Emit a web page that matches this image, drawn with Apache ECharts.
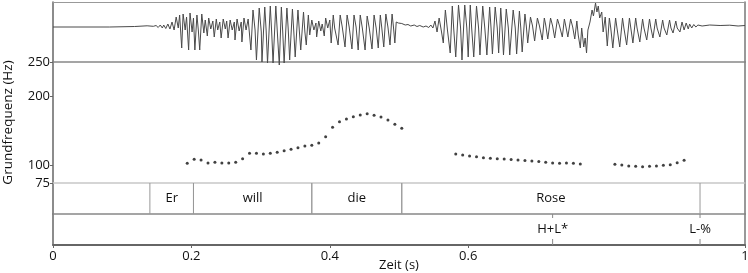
<!DOCTYPE html>
<html lang="de">
<head>
<meta charset="UTF-8">
<title>Grundfrequenz</title>
<script src="https://cdn.jsdelivr.net/npm/echarts@6/dist/echarts.min.js"></script>
<style>
    html, body { margin: 0; padding: 0; background: #fff; }
    #chart { width: 748px; height: 273px; }
</style>
</head>
<body>
<div id="chart"></div>
<script>
// ---- Daten ----
var timeTicks = [0, 0.2, 0.4, 0.6, 1];
var hzTicks = [75, 100, 200, 250];

// Oszillogramm [Zeit s, Amplitude]
var waveLead = [[0,0],[0.039,0],[0.082,0],[0.118,0.005],[0.136,0.012],[0.145,0.007],
    [0.149,0.015],[0.152,-0.005],[0.155,0.02],[0.158,-0.01],[0.160,0.02],[0.163,-0.015],[0.166,0.03],[0.169,-0.02],[0.172,0.05],
    [0.175,-0.03],[0.178,0.10],[0.181,-0.01],[0.183,0.12],[0.186,-0.21],[0.188,0.13],[0.191,-0.03],[0.193,0.10],[0.196,-0.23],
    [0.198,0.14],[0.201,-0.05],[0.203,0.09],[0.205,-0.23],[0.208,0.12],[0.210,-0.03],[0.212,-0.23],[0.215,0.13],[0.218,-0.06],[0.220,0.07]];
var waveWill = [[0.223,-0.09],[0.225,0.09],[0.228,-0.02],[0.231,0.06],[0.233,-0.10],[0.236,0.08],[0.238,-0.03],[0.241,0.05],
    [0.243,-0.11],[0.246,0.08],[0.249,-0.02],[0.251,0.06],[0.253,-0.11],[0.256,0.07],[0.259,-0.03],[0.262,0.05],[0.263,-0.13],
    [0.266,0.08],[0.269,-0.04],[0.272,0.05],[0.273,-0.15],[0.276,0.09],[0.279,-0.03],[0.282,0.08],
    [0.286,-0.23],[0.289,0.17],[0.292,-0.03],[0.294,-0.33],[0.298,0.19],[0.301,-0.05],[0.302,-0.35],[0.306,0.20],[0.308,-0.03],
    [0.310,-0.36],[0.314,0.21],[0.316,-0.05],[0.318,-0.36],[0.322,0.21],[0.324,-0.03],[0.327,-0.38],[0.330,0.20],[0.332,-0.05],
    [0.334,-0.36],[0.338,0.19],[0.340,-0.03],[0.342,-0.33],[0.346,0.18],[0.348,-0.05],[0.350,-0.30],[0.354,0.17],[0.356,-0.04],
    [0.358,-0.23],[0.362,0.15],[0.364,-0.05],[0.366,-0.18],[0.369,0.12],
    [0.371,-0.08],[0.374,0.07],[0.377,-0.03],[0.380,0.04],[0.381,-0.10],[0.384,0.06],[0.387,-0.04],[0.389,0.03],[0.392,-0.09],
    [0.394,0.09],[0.397,-0.01],[0.400,0.07]];
var waveDie = [[0.402,-0.16],[0.405,0.12],[0.407,-0.01],[0.412,-0.18],[0.415,0.12],[0.418,0],[0.422,-0.20],[0.425,0.12],
    [0.428,0],[0.432,-0.22],[0.435,0.12],[0.438,0],[0.441,-0.23],[0.444,0.12],[0.447,-0.01],[0.451,-0.23],[0.454,0.11],
    [0.457,-0.01],[0.461,-0.22],[0.464,0.12],[0.467,-0.01],[0.470,-0.21],[0.473,0.12],[0.475,0],[0.478,-0.20],[0.481,0.13],
    [0.484,0],[0.487,-0.18],[0.490,0.13],[0.492,0],[0.494,-0.16],[0.496,0.05]];
var wavePause = [[0.499,0.04],[0.501,0.02],[0.504,0.035],[0.509,0.02],[0.513,0.025],[0.517,0.01],[0.522,0.02],[0.526,0.005],
    [0.530,0.015],[0.535,0],[0.539,0.01],[0.543,-0.005],[0.546,0.02]];
var waveRose = [[0.549,-0.01],[0.552,0.06],[0.555,-0.05],[0.558,0.09],[0.561,-0.03],[0.564,-0.16],[0.567,0.17],[0.570,-0.03],
    [0.574,-0.26],[0.577,0.21],[0.579,-0.01],[0.582,-0.30],[0.586,0.22],[0.589,-0.01],[0.591,-0.33],[0.595,0.22],[0.598,-0.01],
    [0.600,-0.30],[0.603,0.22],[0.605,-0.01],[0.608,-0.30],[0.612,0.21],[0.615,-0.01],[0.617,-0.28],[0.621,0.21],[0.624,-0.01],
    [0.627,-0.28],[0.631,0.20],[0.633,-0.01],[0.635,-0.27],[0.639,0.20],[0.642,-0.01],[0.644,-0.26],[0.647,0.19],[0.649,-0.01],
    [0.651,-0.28],[0.655,0.18],[0.658,-0.01],[0.660,-0.28],[0.665,0.17],[0.668,-0.01],[0.670,-0.27],[0.674,0.16],[0.676,-0.01],
    [0.678,-0.25],[0.682,0.13],[0.684,0.01],[0.686,-0.16],[0.690,0.10],[0.693,0.01],[0.696,-0.14],[0.700,0.09],[0.703,0.01],
    [0.707,-0.13],[0.710,0.09],[0.712,0.02],[0.715,-0.12],[0.719,0.09],[0.722,0.01],[0.725,-0.11],[0.729,0.08],[0.732,0.01],
    [0.736,-0.10],[0.739,0.08],[0.741,0.01],[0.744,-0.10],[0.748,0.08],[0.751,0],[0.754,-0.12],[0.757,0.06],[0.759,-0.08],
    [0.762,-0.21],[0.764,-0.01],[0.767,-0.20],[0.769,-0.11],[0.771,-0.26],[0.773,-0.03],
    [0.776,0.05],[0.779,0.17],[0.781,0.11],[0.784,0.24],[0.786,0.15],[0.788,0.21],[0.790,0.09],[0.793,0.15],[0.795,-0.05],[0.798,0.10],
    [0.801,-0.19],[0.804,0.09],[0.806,-0.01],[0.809,-0.21],[0.813,0.09],[0.815,-0.01],[0.819,-0.20],[0.823,0.09],[0.825,-0.01],
    [0.829,-0.18],[0.833,0.09],[0.835,-0.01],[0.838,-0.16],[0.842,0.09],[0.844,-0.01],[0.848,-0.15],[0.852,0.08],[0.854,-0.01],
    [0.858,-0.13],[0.862,0.08],[0.864,-0.01],[0.867,-0.11],[0.871,0.08],[0.873,-0.01],[0.877,-0.10],[0.881,0.07],[0.883,-0.01],
    [0.887,-0.08],[0.891,0.07],[0.893,-0.01],[0.896,-0.06],[0.900,0.06],[0.902,-0.01],[0.906,-0.05]];
var waveTail = [[0.909,0.05],[0.912,-0.03],[0.915,0.04],[0.918,-0.02],[0.920,0.03],[0.923,-0.01],[0.926,0.025],[0.929,0],
    [0.932,0.02],[0.938,0.01],[0.949,0.02],[0.964,0.015],[0.978,0.018],[0.990,0.01],[1.0,0.015]];

// F0-Kontur [Zeit s, Hz]
var f0Seg1 = [[0.194,103.5],[0.204,109.3],[0.214,108.3],[0.224,103.9],[0.234,104.9],[0.244,103.9],[0.254,103.9],[0.264,104.9],
    [0.274,110.1],[0.284,117.9],[0.294,117.9],[0.304,116.9],[0.314,117.9],[0.324,119.4],[0.334,121.7],[0.344,123.7],[0.354,126.0],
    [0.364,128.5],[0.374,129.5],[0.384,132.8],[0.394,142.0],[0.404,155.6],[0.414,163.7],[0.424,167.6],[0.434,170.9],[0.444,173.3],
    [0.454,175.2],[0.464,172.9],[0.474,170.5],[0.484,166.1],[0.494,159.9],[0.504,154.1]];
var f0Seg2 = [[0.582,116.9],[0.592,115.5],[0.602,114.1],[0.612,113.0],[0.622,111.6],[0.632,110.7],[0.642,110.1],[0.652,109.7],
    [0.662,108.9],[0.672,108.3],[0.682,107.5],[0.692,106.8],[0.702,106.1],[0.712,104.9],[0.722,103.9],[0.732,103.5],[0.742,103.9],
    [0.752,103.5],[0.762,102.5]];
var f0Seg3 = [[0.812,102.0],[0.822,101.0],[0.832,99.6],[0.842,99.1],[0.852,98.6],[0.862,99.1],[0.872,99.6],[0.882,100.6],
    [0.892,101.4],[0.902,104.4],[0.912,107.8]];

// Annotation: Wörter [Text, Beginn, Ende] und Töne [Text, Zeit]
var words = [['Er', 0.140, 0.203], ['will', 0.203, 0.374], ['die', 0.374, 0.504], ['Rose', 0.504, 0.935]];
var tones = [['H+L*', 0.722], ['L-%', 0.935]];

// ---- Chart ----
var FONT = '"Open Sans", "Noto Sans", sans-serif';
var chart = echarts.init(document.getElementById('chart'), null, {renderer: 'canvas'});

var grids = [
    {left: 53, right: 3, top: 2, height: 60, outerBoundsMode: 'none', containLabel: false},
    {left: 53, right: 3, top: 62, height: 121, outerBoundsMode: 'none', containLabel: false},
    {left: 53, right: 3, top: 183, height: 31, outerBoundsMode: 'none', containLabel: false},
    {left: 53, right: 3, top: 214, height: 31, outerBoundsMode: 'none', containLabel: false}
];

function hiddenX(gi, pos, lineColor, lineWidth) {
    return {
        type: 'value', gridIndex: gi, min: 0, max: 1, position: pos,
        axisLine: {show: true, onZero: false, lineStyle: {color: lineColor, width: lineWidth}},
        axisTick: {show: false}, axisLabel: {show: false}, splitLine: {show: false}
    };
}
function plainY(gi, pos, min, max, lineColor) {
    return {
        type: 'value', gridIndex: gi, min: min, max: max, position: pos,
        axisLine: {show: true, onZero: false, lineStyle: {color: lineColor, width: 1.5}},
        axisTick: {show: false}, axisLabel: {show: false}, splitLine: {show: false}
    };
}

var xAxes = [
    hiddenX(0, 'bottom', '#888', 1.5),
    hiddenX(1, 'bottom', '#c8c8c8', 1.5),
    hiddenX(2, 'bottom', '#888', 1.5),
    {
        type: 'value', gridIndex: 3, min: 0, max: 1, position: 'bottom',
        name: 'Zeit (s)', nameLocation: 'middle', nameGap: 14, nameMoveOverlap: false,
        nameTextStyle: {fontFamily: FONT, fontSize: 13, color: '#111', verticalAlign: 'top'},
        axisLine: {show: true, onZero: false, lineStyle: {color: '#666', width: 2}},
        axisTick: {show: true, length: 3, customValues: timeTicks, lineStyle: {color: '#666'}},
        axisLabel: {show: true, customValues: timeTicks, margin: 5, fontFamily: FONT, fontSize: 13, color: '#111'},
        splitLine: {show: false}
    },
    hiddenX(0, 'top', '#999', 1)
];

var yAxes = [
    plainY(0, 'left', -0.35, 0.25, '#666'),
    {
        type: 'value', gridIndex: 1, min: 75, max: 250, position: 'left',
        name: 'Grundfrequenz (Hz)', nameLocation: 'middle', nameGap: 38, nameMoveOverlap: false,
        nameTextStyle: {fontFamily: FONT, fontSize: 13.5, color: '#111'},
        axisLine: {show: true, onZero: false, lineStyle: {color: '#666', width: 1.5}},
        axisTick: {show: true, length: 3, customValues: hzTicks, lineStyle: {color: '#666'}},
        axisLabel: {show: true, customValues: hzTicks, margin: 3, fontFamily: FONT, fontSize: 13, color: '#111'},
        splitLine: {show: false}
    },
    plainY(2, 'left', 0, 1, '#666'),
    plainY(3, 'left', 0, 1, '#666'),
    plainY(0, 'right', -0.35, 0.25, '#777'),
    plainY(1, 'right', 75, 250, '#777'),
    plainY(2, 'right', 0, 1, '#777'),
    plainY(3, 'right', 0, 1, '#777')
];

var waveform = [].concat(waveLead, waveWill, waveDie, wavePause, waveRose, waveTail);
var f0 = [].concat(f0Seg1, f0Seg2, f0Seg3);

function tierText(x, y, text) {
    return {
        type: 'text', x: x, y: y,
        style: {text: text, align: 'center', verticalAlign: 'middle', textAlign: 'center', textVerticalAlign: 'middle',
            font: '13px ' + FONT, fill: '#111'}
    };
}

var option = {
    animation: false,
    backgroundColor: '#fff',
    grid: grids,
    xAxis: xAxes,
    yAxis: yAxes,
    series: [
        {
            type: 'line', xAxisIndex: 0, yAxisIndex: 0, data: waveform,
            showSymbol: false, clip: false, silent: true,
            lineStyle: {color: '#4a4a4a', width: 1}
        },
        {
            type: 'scatter', xAxisIndex: 1, yAxisIndex: 1, data: f0,
            symbol: 'circle', symbolSize: 3, silent: true,
            itemStyle: {color: '#111'}
        },
        {
            // Wortgrenzen + Wörter
            type: 'custom', xAxisIndex: 2, yAxisIndex: 2, silent: true,
            data: words.map(function (w) { return [w[1], w[2], w[0]]; }),
            renderItem: function (params, api) {
                var cs = params.coordSys;
                var x0 = api.coord([api.value(0), 0])[0];
                var x1 = api.coord([api.value(1), 0])[0];
                var mid = api.coord([(api.value(0) + api.value(1)) / 2, 0.5]);
                var line = {stroke: '#999', lineWidth: 1};
                return {
                    type: 'group',
                    children: [
                        {type: 'line', shape: {x1: x0, y1: cs.y, x2: x0, y2: cs.y + cs.height}, style: line},
                        {type: 'line', shape: {x1: x1, y1: cs.y, x2: x1, y2: cs.y + cs.height}, style: line},
                        tierText(mid[0], mid[1], words[params.dataIndex][0])
                    ]
                };
            }
        },
        {
            // Töne
            type: 'custom', xAxisIndex: 3, yAxisIndex: 3, silent: true,
            data: tones.map(function (t) { return [t[1]]; }),
            renderItem: function (params, api) {
                var cs = params.coordSys;
                var p = api.coord([api.value(0), 0.5]);
                var line = {stroke: '#888', lineWidth: 1};
                return {
                    type: 'group',
                    children: [
                        {type: 'line', shape: {x1: p[0], y1: cs.y, x2: p[0], y2: cs.y + 4}, style: line},
                        {type: 'line', shape: {x1: p[0], y1: cs.y + cs.height - 6, x2: p[0], y2: cs.y + cs.height}, style: line},
                        tierText(p[0], p[1], tones[params.dataIndex][0])
                    ]
                };
            }
        }
    ]
};

chart.setOption(option);
</script>
</body>
</html>
